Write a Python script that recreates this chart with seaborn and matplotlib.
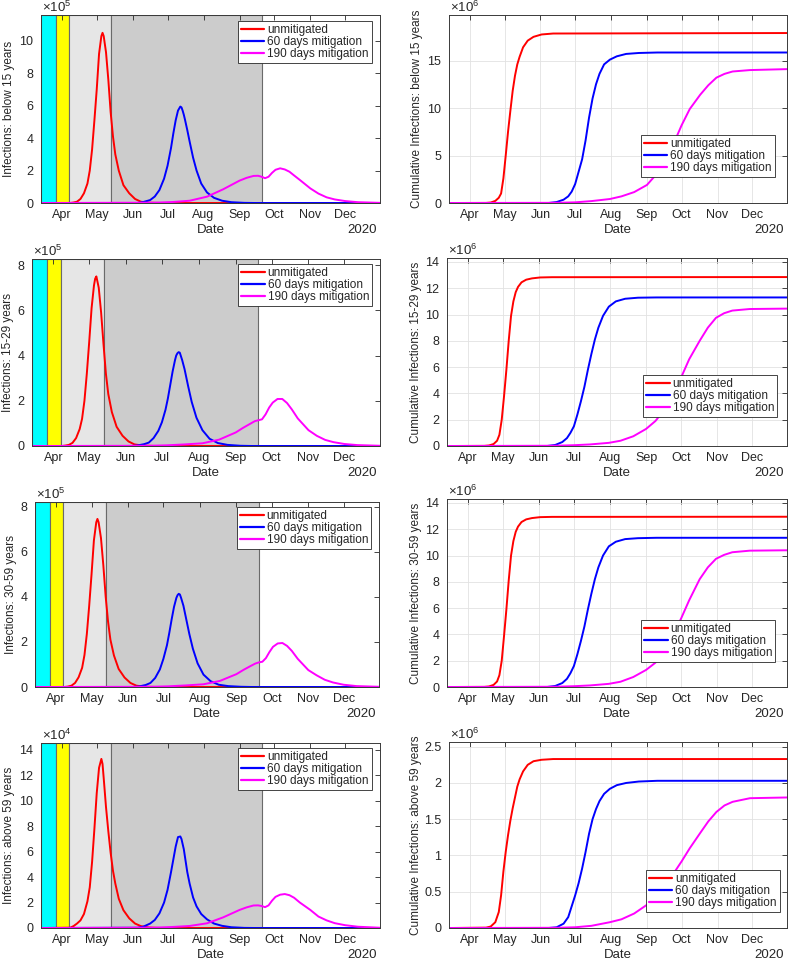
import numpy as np
import pandas as pd
import matplotlib
matplotlib.use("Agg")
import matplotlib.pyplot as plt
import matplotlib.dates as mdates
from matplotlib.transforms import ScaledTranslation
import seaborn as sns

# ---------------- data ----------------
YEAR = "2020"
SERIES_LABELS = ["unmitigated", "60 days mitigation", "190 days mitigation"]
SERIES_COLORS = ["#FF0000", "#0000FF", "#FF00FF"]
GROUPS = ["below 15 years", "15-29 years", "30-59 years", "above 59 years"]
DAILY_EXP = [5, 5, 5, 4]
CUM_EXP = [6, 6, 6, 6]

# intervention periods (cyan, yellow, light gray, dark gray)
PERIOD_EDGES = ["03-14", "03-27", "04-07", "05-13", "09-20"]
PERIOD_COLORS = ["#00FFFF", "#FFFF00", "#E6E6E6", "#CCCCCC"]
X_START, X_END = "03-14", "12-31"

LEFT_YTICKS = [[0, 2, 4, 6, 8, 10], [0, 2, 4, 6, 8], [0, 2, 4, 6, 8], [0, 2, 4, 6, 8, 10, 12, 14]]
LEFT_YMAX = [11.6, 8.27, 8.2, 14.55]
RIGHT_YTICKS = [[0, 5, 10, 15], [0, 2, 4, 6, 8, 10, 12, 14], [0, 2, 4, 6, 8, 10, 12, 14],
                [0, 0.5, 1, 1.5, 2, 2.5]]
RIGHT_YTICKLABELS = [["0", "5", "10", "15"], None, None, ["0", "0.5", "1", "1.5", "2", "2.5"]]
RIGHT_YMAX = [19.8, 14.3, 14.3, 2.565]

# daily infections (units of 10^DAILY_EXP)
RED_D_DATES = ["03-15", "04-08", "04-11", "04-14", "04-17", "04-20", "04-23", "04-25", "04-27",
               "04-29", "05-01", "05-03", "05-05", "05-06", "05-07", "05-09", "05-11", "05-13",
               "05-15", "05-17", "05-20", "05-24", "05-29", "06-03", "06-08", "06-15", "06-25",
               "12-31"]
R1_RED_D = [0, 0, 0.03, 0.08, 0.25, 0.6, 1.2, 2.0, 3.3, 5.1, 7.0, 9.2, 10.3, 10.5, 10.3, 9.3, 7.6,
            5.6, 4.1, 3.0, 2.0, 1.1, 0.6, 0.25, 0.08, 0.02, 0, 0]
R2_RED_D = [0, 0, 0.02, 0.05, 0.14, 0.35, 0.75, 1.2, 2.0, 3.2, 4.6, 6.1, 7.1, 7.4, 7.5, 7.0, 5.9,
            4.5, 3.2, 2.3, 1.5, 0.85, 0.45, 0.2, 0.07, 0.02, 0, 0]
R3_RED_D = [0, 0, 0.02, 0.06, 0.18, 0.43, 0.85, 1.42, 2.35, 3.6, 5.0, 6.5, 7.3, 7.45, 7.3, 6.6, 5.4,
            4.0, 2.9, 2.1, 1.4, 0.8, 0.42, 0.18, 0.06, 0.015, 0, 0]
R4_RED_D = [0, 0.02, 0.15, 0.35, 0.6, 1.1, 2.1, 3.2, 5.2, 7.8, 10.6, 12.6, 13.3, 12.9, 11.8, 9.5,
            7.6, 5.9, 4.5, 3.5, 2.3, 1.4, 0.76, 0.35, 0.15, 0.04, 0, 0]

BLUE_D_DATES = ["03-15", "06-05", "06-10", "06-16", "06-20", "06-24", "06-28", "07-01", "07-04",
                "07-06", "07-08", "07-10", "07-12", "07-13", "07-14", "07-15", "07-16", "07-18",
                "07-20", "07-23", "07-26", "07-30", "08-04", "08-10", "08-17", "08-25", "09-05",
                "09-15", "12-31"]
R1_BLUE_D = [0, 0, 0.06, 0.18, 0.4, 0.8, 1.5, 2.3, 3.4, 4.3, 5.1, 5.7, 5.95, 5.9, 5.7, 5.45, 5.15,
             4.5, 3.8, 2.8, 2.0, 1.2, 0.65, 0.32, 0.14, 0.05, 0.01, 0, 0]
R2_BLUE_D = [0, 0, 0.02, 0.08, 0.15, 0.35, 0.67, 1.05, 1.6, 2.1, 2.7, 3.3, 3.8, 4.0, 4.1, 4.15,
             4.13, 3.8, 3.4, 2.65, 1.95, 1.25, 0.7, 0.32, 0.13, 0.05, 0.01, 0, 0]
R3_BLUE_D = [0, 0, 0.02, 0.09, 0.18, 0.4, 0.78, 1.25, 1.85, 2.4, 3.0, 3.55, 3.95, 4.07, 4.13, 4.1,
             3.95, 3.6, 3.1, 2.35, 1.7, 1.05, 0.55, 0.26, 0.1, 0.04, 0.01, 0, 0]
R4_BLUE_D = [0, 0.02, 0.1, 0.35, 0.63, 1.15, 2.0, 3.0, 4.4, 5.4, 6.4, 7.15, 7.2, 7.0, 6.6, 6.2, 5.6,
             4.4, 3.5, 2.4, 1.7, 1.1, 0.68, 0.35, 0.17, 0.06, 0.01, 0, 0]

MAG_D_DATES = ["03-15", "06-20", "07-05", "07-20", "08-04", "08-18", "09-01", "09-07", "09-13",
               "09-17", "09-20", "09-23", "09-26", "09-29", "10-02", "10-06", "10-10", "10-14",
               "10-18", "10-23", "11-01", "11-08", "11-15", "11-22", "12-01", "12-12", "12-31"]
R1_MAG_D = [0, 0.02, 0.06, 0.14, 0.39, 0.85, 1.38, 1.55, 1.67, 1.68, 1.62, 1.53, 1.62, 1.86, 2.05,
            2.14, 2.07, 1.93, 1.7, 1.42, 0.9, 0.58, 0.35, 0.22, 0.12, 0.05, 0.01]
R2_MAG_D = [0, 0.01, 0.03, 0.07, 0.12, 0.28, 0.6, 0.8, 0.98, 1.1, 1.14, 1.18, 1.4, 1.7, 1.92, 2.08,
            2.08, 1.9, 1.62, 1.22, 0.7, 0.45, 0.27, 0.17, 0.09, 0.04, 0.01]
R3_MAG_D = [0, 0.01, 0.03, 0.07, 0.12, 0.27, 0.57, 0.76, 0.93, 1.04, 1.09, 1.12, 1.28, 1.55, 1.78,
            1.93, 1.95, 1.82, 1.6, 1.25, 0.75, 0.52, 0.32, 0.2, 0.1, 0.04, 0.01]
R4_MAG_D = [0, 0.03, 0.08, 0.16, 0.37, 0.84, 1.42, 1.62, 1.77, 1.78, 1.73, 1.64, 1.78, 2.15, 2.45,
            2.62, 2.67, 2.58, 2.38, 2.0, 1.42, 0.9, 0.6, 0.38, 0.22, 0.1, 0.02]

# cumulative infections (units of 10^6)
RED_C_DATES = ["03-15", "04-15", "04-19", "04-23", "04-26", "04-28", "04-30", "05-02", "05-04",
               "05-06", "05-08", "05-10", "05-12", "05-14", "05-17", "05-21", "05-26", "06-02",
               "06-12", "12-31"]
R1_RED_C = [0, 0.01, 0.05, 0.22, 0.55, 1.0, 2.6, 5.0, 7.5, 9.7, 11.8, 13.4, 14.6, 15.4, 16.4, 17.1,
            17.5, 17.75, 17.85, 17.9]
R2_RED_C = [0, 0.01, 0.04, 0.15, 0.4, 0.85, 2.0, 3.8, 5.8, 8.0, 9.9, 11.0, 11.7, 12.1, 12.45, 12.65,
            12.75, 12.82, 12.84, 12.85]
R3_RED_C = [0, 0.01, 0.04, 0.16, 0.42, 0.9, 2.0, 3.9, 5.9, 8.1, 10.0, 11.1, 11.8, 12.2, 12.55,
            12.75, 12.85, 12.92, 12.94, 12.95]
R4_RED_C = [0, 0.005, 0.02, 0.08, 0.22, 0.45, 0.78, 1.05, 1.28, 1.48, 1.65, 1.8, 1.95, 2.05, 2.16,
            2.25, 2.3, 2.32, 2.33, 2.33]

BLUE_C_DATES = ["03-15", "06-08", "06-15", "06-21", "06-25", "06-28", "07-01", "07-04", "07-07",
                "07-10", "07-13", "07-16", "07-19", "07-22", "07-26", "07-31", "08-06", "08-14",
                "08-25", "09-10", "12-31"]
R1_BLUE_C = [0, 0, 0.1, 0.35, 0.7, 1.2, 2.0, 3.3, 4.6, 6.6, 9.0, 11.0, 12.5, 13.6, 14.6, 15.1, 15.45,
             15.7, 15.8, 15.85, 15.85]
R2_BLUE_C = [0, 0, 0.08, 0.3, 0.6, 1.0, 1.5, 2.4, 3.4, 4.5, 5.8, 7.0, 8.1, 9.0, 9.9, 10.6, 11.0,
             11.2, 11.28, 11.3, 11.3]
R3_BLUE_C = [0, 0, 0.08, 0.3, 0.62, 1.05, 1.6, 2.5, 3.5, 4.6, 5.9, 7.1, 8.2, 9.1, 10.0, 10.7, 11.05,
             11.25, 11.32, 11.35, 11.35]
R4_BLUE_C = [0, 0, 0.01, 0.06, 0.15, 0.3, 0.45, 0.62, 0.82, 1.05, 1.3, 1.5, 1.64, 1.75, 1.85, 1.92,
             1.97, 2.0, 2.02, 2.03, 2.03]

MAG_C_DATES = ["03-15", "06-15", "07-01", "07-15", "07-31", "08-10", "08-21", "09-01", "09-09",
               "09-18", "09-26", "10-01", "10-08", "10-17", "10-24", "10-31", "11-07", "11-14",
               "11-29", "12-31"]
R1_MAG_C = [0, 0.02, 0.07, 0.2, 0.42, 0.7, 1.15, 1.9, 3.0, 4.8, 6.8, 8.2, 9.9, 11.4, 12.4, 13.2,
            13.6, 13.85, 14.0, 14.1]
R2_MAG_C = [0, 0.02, 0.06, 0.12, 0.24, 0.4, 0.74, 1.3, 1.9, 2.9, 4.3, 5.2, 6.6, 8.0, 9.0, 9.75,
            10.1, 10.3, 10.42, 10.45]
R3_MAG_C = [0, 0.02, 0.06, 0.12, 0.24, 0.4, 0.76, 1.3, 1.85, 2.9, 4.3, 5.2, 6.6, 8.2, 9.1, 9.75,
            10.05, 10.25, 10.37, 10.4]
R4_MAG_C = [0, 0.003, 0.01, 0.03, 0.08, 0.12, 0.2, 0.32, 0.43, 0.6, 0.8, 0.92, 1.1, 1.31, 1.47,
            1.6, 1.69, 1.74, 1.79, 1.80]

DAILY = [(R1_RED_D, R1_BLUE_D, R1_MAG_D), (R2_RED_D, R2_BLUE_D, R2_MAG_D),
         (R3_RED_D, R3_BLUE_D, R3_MAG_D), (R4_RED_D, R4_BLUE_D, R4_MAG_D)]
CUMUL = [(R1_RED_C, R1_BLUE_C, R1_MAG_C), (R2_RED_C, R2_BLUE_C, R2_MAG_C),
         (R3_RED_C, R3_BLUE_C, R3_MAG_C), (R4_RED_C, R4_BLUE_C, R4_MAG_C)]
D_DATES = (RED_D_DATES, BLUE_D_DATES, MAG_D_DATES)
C_DATES = (RED_C_DATES, BLUE_C_DATES, MAG_C_DATES)

# ---------------- style ----------------
sns.set_style("white")
plt.rcParams["font.family"] = ["Liberation Sans", "DejaVu Sans"]
plt.rcParams["mathtext.fontset"] = "custom"
plt.rcParams["mathtext.rm"] = "Liberation Sans"
plt.rcParams["mathtext.it"] = "Liberation Sans:italic"
TXT = "#262626"
SPINE = "#3a3a3a"

W, H = 790, 960
fig = plt.figure(figsize=(W / 100, H / 100), dpi=100)

LEFT_BOXES = [(41, 15, 380, 203), (32, 259, 380, 446), (35, 502, 379, 687), (41, 743, 380, 928)]
RIGHT_BOXES = [(449, 15, 787, 203), (447, 258, 787, 446), (447, 499, 787, 687), (449, 742, 787, 928)]
LEFT_YLAB_EDGE = [15, 14, 17, 15]
RIGHT_YLAB_EDGE = [423, 422, 422, 422]
LEFT_LEG = [(0.976, 0.968), (0.977, 0.973), (0.977, 0.973), (0.976, 0.973)]
RIGHT_LEG = [(0.964, 0.138), (0.971, 0.154), (0.965, 0.133), (0.979, 0.086)]


def dt(strs):
    return pd.to_datetime([f"{YEAR}-{s}" for s in strs])


def add_axes(box):
    x0, y0, x1, y1 = box
    return fig.add_axes([x0 / W, 1 - y1 / H, (x1 - x0) / W, (y1 - y0) / H])


def off(ax, dx, dy):
    return ax.transAxes + ScaledTranslation(dx / 100, dy / 100, fig.dpi_scale_trans)


def style_axes(ax, ymax, yticks, yticklabels, exp, ylabel, ylab_dx, grid):
    ax.set_xlim(dt([X_START])[0], dt([X_END])[0])
    ax.set_ylim(0, ymax)
    ax.xaxis.set_major_locator(mdates.MonthLocator(bymonth=range(4, 13)))
    ax.xaxis.set_major_formatter(mdates.DateFormatter("%b"))
    ax.set_yticks(yticks)
    if yticklabels is not None:
        ax.set_yticklabels(yticklabels)
    ax.tick_params(axis="both", direction="in", length=3.5, width=0.6, top=True, right=True,
                   labelsize=9, colors=TXT)
    ax.tick_params(axis="x", pad=4)
    ax.tick_params(axis="y", pad=5.5)
    for s in ax.spines.values():
        s.set_color(SPINE)
        s.set_linewidth(0.7)
        s.set_zorder(5)
    if grid:
        ax.grid(True, color="#E2E2E2", linewidth=0.6)
        ax.set_axisbelow(True)
    else:
        ax.grid(False)
    ax.set_xlabel("")
    ax.set_ylabel("")
    ax.text(0, 0.5, ylabel, rotation=90, ha="right", va="center", fontsize=8.5, color=TXT,
            transform=off(ax, ylab_dx, 0))
    ax.text(0.5, 0, "Date", ha="center", va="top", fontsize=9.5, color=TXT,
            transform=off(ax, 0, -21))
    ax.text(1, 0, YEAR, ha="right", va="top", fontsize=9.5, color=TXT,
            transform=off(ax, -3, -21))
    ax.text(0, 1, r"$\mathregular{\times10^{%d}}$" % exp, ha="left", va="bottom", fontsize=9.5,
            color=TXT, transform=off(ax, 1, 0))


def add_legend(ax, loc, anchor):
    leg = ax.legend(loc=loc, bbox_to_anchor=anchor, fontsize=8.5, frameon=True, fancybox=False,
                    framealpha=1, edgecolor="#262626", handlelength=2.0, handletextpad=0.25,
                    labelspacing=0.0, borderpad=0.25, borderaxespad=0)
    leg.get_frame().set_linewidth(0.6)
    for ln in leg.get_lines():
        ln.set_linewidth(1.6)
    leg.set_zorder(10)


edges = dt(PERIOD_EDGES)
for r in range(4):
    # ---- left: daily infections ----
    ax = add_axes(LEFT_BOXES[r])
    for i, col in enumerate(PERIOD_COLORS):
        ax.axvspan(edges[i], edges[i + 1], facecolor=col, edgecolor="#6a6a6a", linewidth=0.8,
                   zorder=0)
    for k in range(3):
        sns.lineplot(x=dt(D_DATES[k]), y=DAILY[r][k], ax=ax, color=SERIES_COLORS[k],
                     linewidth=1.4, label=SERIES_LABELS[k], legend=False, sort=False,
                     estimator=None, zorder=3)
    for ln in ax.lines:
        ln.set_clip_on(False)
    style_axes(ax, LEFT_YMAX[r], LEFT_YTICKS[r], None, DAILY_EXP[r],
               f"Infections: {GROUPS[r]}", LEFT_YLAB_EDGE[r] - LEFT_BOXES[r][0], grid=False)
    add_legend(ax, "upper right", LEFT_LEG[r])

    # ---- right: cumulative infections ----
    ax2 = add_axes(RIGHT_BOXES[r])
    for k in range(3):
        sns.lineplot(x=dt(C_DATES[k]), y=CUMUL[r][k], ax=ax2, color=SERIES_COLORS[k],
                     linewidth=1.4, label=SERIES_LABELS[k], legend=False, sort=False,
                     estimator=None, zorder=3)
    for ln in ax2.lines:
        ln.set_clip_on(False)
    style_axes(ax2, RIGHT_YMAX[r], RIGHT_YTICKS[r], RIGHT_YTICKLABELS[r], CUM_EXP[r],
               f"Cumulative Infections: {GROUPS[r]}", RIGHT_YLAB_EDGE[r] - RIGHT_BOXES[r][0],
               grid=True)
    add_legend(ax2, "lower right", RIGHT_LEG[r])

fig.savefig("out.png", dpi=100, facecolor="white")
